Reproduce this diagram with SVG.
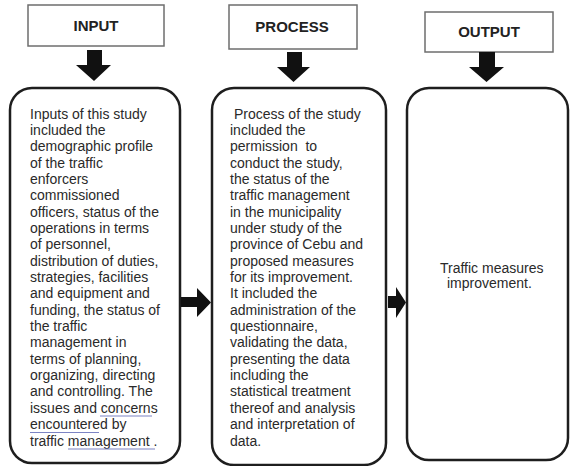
<svg xmlns="http://www.w3.org/2000/svg" width="571" height="466" viewBox="0 0 571 466">
<style>
.hdr{fill:#fff;stroke:#6e6e6e;stroke-width:1.5}
.big{fill:#fff;stroke:#1e1e1e;stroke-width:2.5}
.ht{font-family:"Liberation Sans",Arial,sans-serif;font-weight:bold;font-size:15px;fill:#222;text-anchor:middle}
.bt{font-family:"Liberation Sans",Arial,sans-serif;font-size:14px;fill:#2a2a2a}
.arr{fill:#111}
.ul{stroke:#7c84c4;stroke-width:1.2;fill:none}
</style>
<rect width="571" height="466" fill="#fff"/>
<g id="input-header">
<rect class="hdr" x="28" y="5" width="136" height="41"/>
<text class="ht" x="96" y="31">INPUT</text>
</g>
<g id="process-header">
<rect class="hdr" x="229" y="5" width="128" height="44"/>
<text class="ht" x="292" y="32">PROCESS</text>
</g>
<g id="output-header">
<rect class="hdr" x="425" y="12" width="128" height="40"/>
<text class="ht" x="489" y="37">OUTPUT</text>
</g>
<g id="input-box">
<rect class="big" x="10" y="88" width="170" height="375" rx="22" ry="22"/>
<text class="bt" x="30" y="118.5">
<tspan x="30" dy="0">Inputs of this study</tspan>
<tspan x="30" dy="16.35">included the</tspan>
<tspan x="30" dy="16.35">demographic profile</tspan>
<tspan x="30" dy="16.35">of the traffic</tspan>
<tspan x="30" dy="16.35">enforcers</tspan>
<tspan x="30" dy="16.35">commissioned</tspan>
<tspan x="30" dy="16.35">officers, status of the</tspan>
<tspan x="30" dy="16.35">operations in terms</tspan>
<tspan x="30" dy="16.35">of personnel,</tspan>
<tspan x="30" dy="16.35">distribution of duties,</tspan>
<tspan x="30" dy="16.35">strategies, facilities</tspan>
<tspan x="30" dy="16.35">and equipment and</tspan>
<tspan x="30" dy="16.35">funding, the status of</tspan>
<tspan x="30" dy="16.35">the traffic</tspan>
<tspan x="30" dy="16.35">management in</tspan>
<tspan x="30" dy="16.35">terms of planning,</tspan>
<tspan x="30" dy="16.35">organizing, directing</tspan>
<tspan x="30" dy="16.35">and controlling. The</tspan>
<tspan x="30" dy="16.35">issues and concerns</tspan>
<tspan x="30" dy="16.35">encountered by</tspan>
<tspan x="30" dy="16.35">traffic management .</tspan>
</text>
<line class="ul" x1="100" y1="416" x2="152" y2="416"/>
<line class="ul" x1="30" y1="432.5" x2="99" y2="432.5"/>
<line class="ul" x1="68" y1="449" x2="155" y2="449"/>
</g>
<g id="process-box">
<rect class="big" x="212" y="88" width="174" height="377" rx="22" ry="22"/>
<text class="bt" x="230" y="118.5" xml:space="preserve"><tspan x="230" dy="0"> Process of the study</tspan><tspan x="230" dy="16.35">included the</tspan><tspan x="230" dy="16.35">permission  to</tspan><tspan x="230" dy="16.35">conduct the study,</tspan><tspan x="230" dy="16.35">the status of the</tspan><tspan x="230" dy="16.35">traffic management</tspan><tspan x="230" dy="16.35">in the municipality</tspan><tspan x="230" dy="16.35">under study of the</tspan><tspan x="230" dy="16.35">province of Cebu and</tspan><tspan x="230" dy="16.35">proposed measures</tspan><tspan x="230" dy="16.35">for its improvement.</tspan><tspan x="230" dy="16.35">It included the</tspan><tspan x="230" dy="16.35">administration of the</tspan><tspan x="230" dy="16.35">questionnaire,</tspan><tspan x="230" dy="16.35">validating the data,</tspan><tspan x="230" dy="16.35">presenting the data</tspan><tspan x="230" dy="16.35">including the</tspan><tspan x="230" dy="16.35">statistical treatment</tspan><tspan x="230" dy="16.35">thereof and analysis</tspan><tspan x="230" dy="16.35">and interpretation of</tspan><tspan x="230" dy="16.35">data.</tspan></text>
</g>
<g id="output-box">
<rect class="big" x="407" y="88" width="161" height="372" rx="22" ry="22"/>
<text class="bt" x="440" y="273">Traffic measures</text>
<text class="bt" x="447" y="288">improvement.</text>
</g>
<g id="connectors">
<polygon class="arr" points="87,50 102,50 102,65 111,65 94,81 76,65 87,65"/>
<polygon class="arr" points="287,52 302,52 302,67 310,67 293.5,82 277,67 287,67"/>
<polygon class="arr" points="479,52 495,52 495,67 504,67 486.5,82 469,67 479,67"/>
<polygon class="arr" points="181,297 197,297 197,288 211,302.5 197,317 197,307 181,307"/>
<polygon class="arr" points="388,296 396,296 396,287 406,302.5 396,318 396,308 388,308"/>
</g>
</svg>
